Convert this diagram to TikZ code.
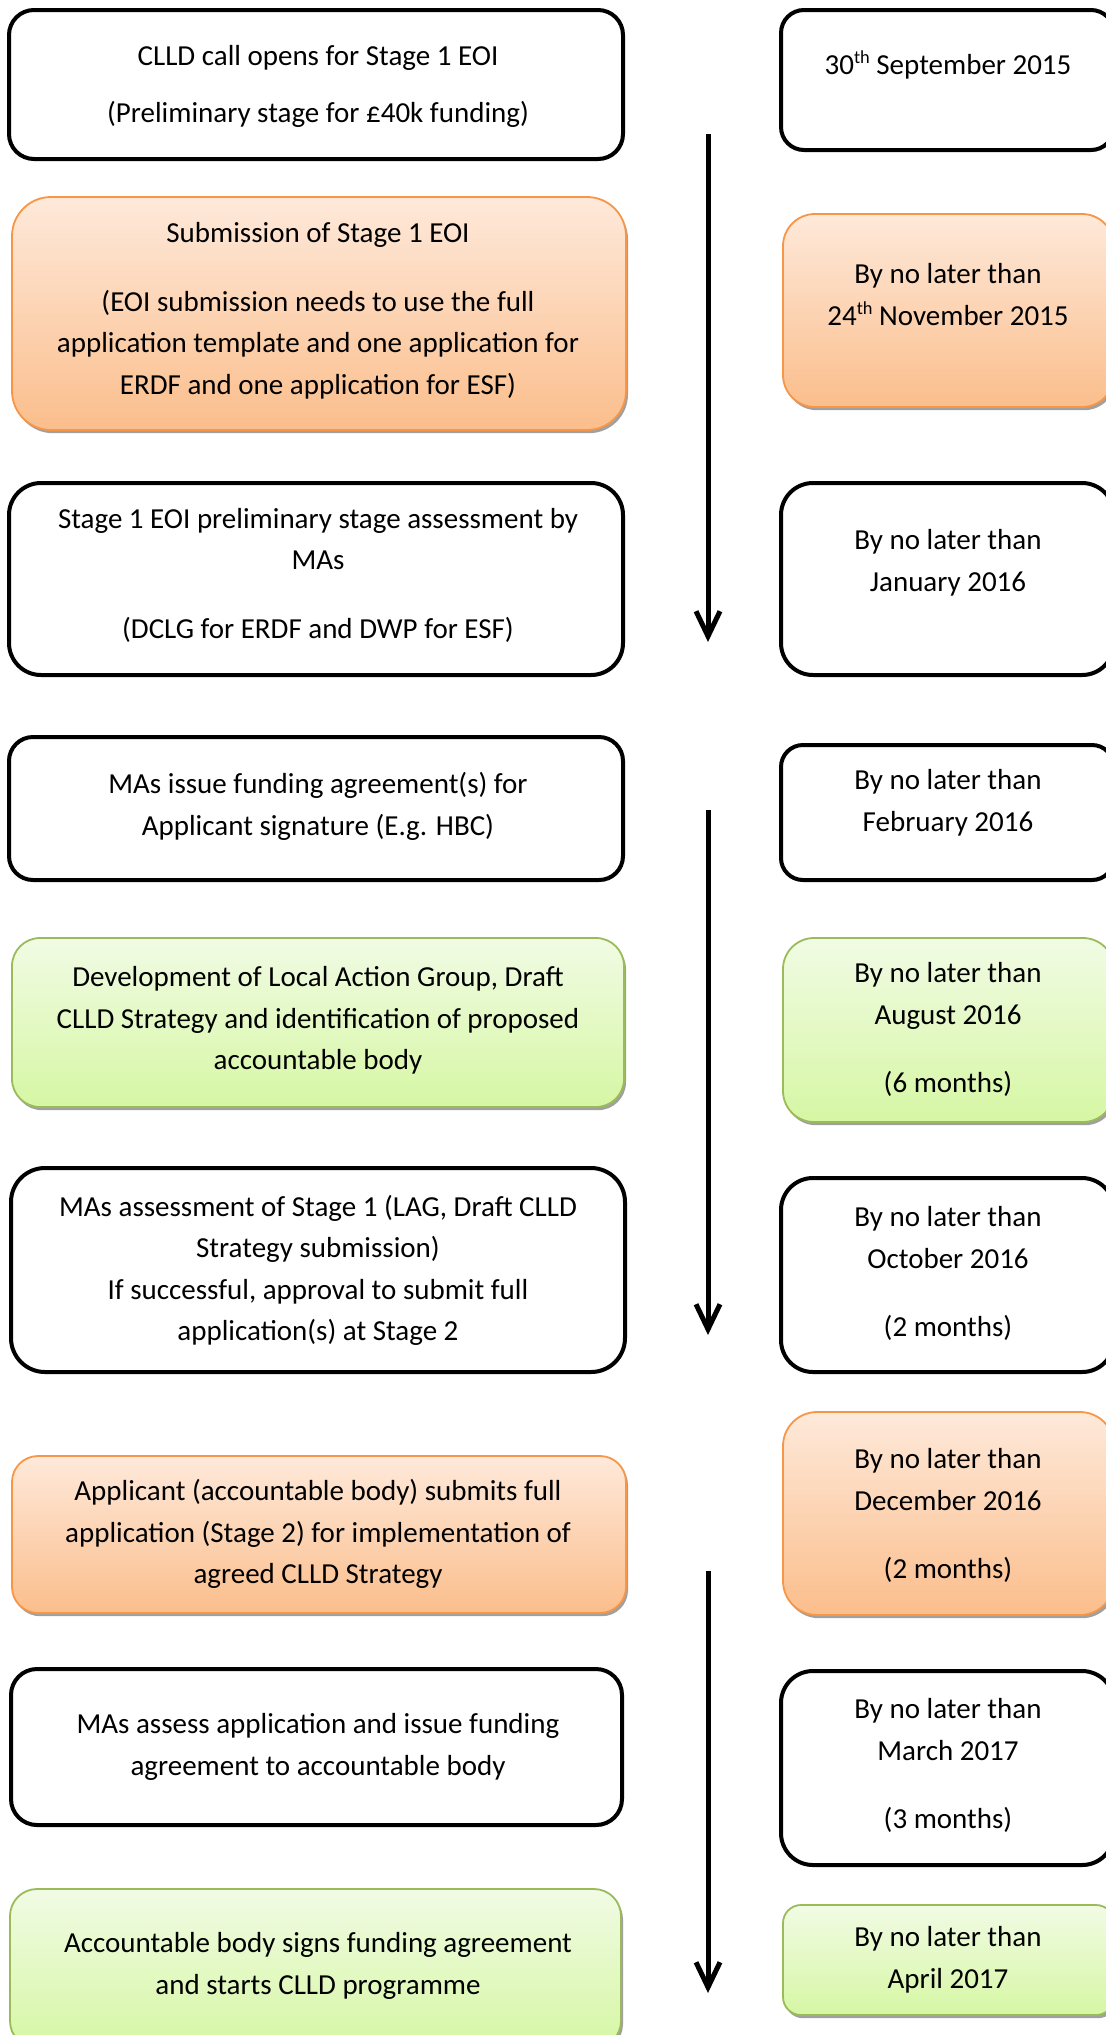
\documentclass[tikz,border=0pt]{standalone}
\usepackage{fontspec}
\setmainfont{Carlito}
\usetikzlibrary{arrows.meta,shadows}
\definecolor{orbd}{HTML}{F79646}
\definecolor{ortop}{HTML}{FEE9DA}
\definecolor{orbot}{HTML}{FBBE8C}
\definecolor{grbd}{HTML}{9BBB59}
\definecolor{grtop}{HTML}{F1FBE4}
\definecolor{grbot}{HTML}{D6F7A4}
\definecolor{shad}{HTML}{A0A0A0}
\tikzset{
  boxbase/.style={rectangle, inner sep=0pt, outer sep=0pt},
  blackbox/.style={boxbase, draw=black, line width=2pt, fill=white,
    drop shadow={shadow xshift=0.6pt, shadow yshift=-0.9pt, fill=shad, opacity=0.7}},
  orangebox/.style={boxbase, draw=orbd, line width=0.9pt, top color=ortop, bottom color=orbot,
    drop shadow={shadow xshift=1pt, shadow yshift=-1.6pt, fill=shad, opacity=1}},
  greenbox/.style={boxbase, draw=grbd, line width=0.9pt, top color=grtop, bottom color=grbot,
    drop shadow={shadow xshift=1pt, shadow yshift=-1.6pt, fill=shad, opacity=1}},
  txt/.style={align=center, inner sep=0pt, font=\fontsize{14.5}{20.75}\selectfont},
  flow/.style={line width=2.5pt, -{Straight Barb[length=12.5pt,width=12pt]}}
}
\newcommand\sups[1]{\raisebox{0.36em}{\fontsize{9.2}{10}\selectfont #1}}
\newcommand\mybox[7]{%
  \pgfmathsetmacro\bw{(#5-#3)*0.5}%
  \pgfmathsetmacro\bh{(#6-#4)*0.5}%
  \pgfmathsetmacro\br{#7*0.5}%
  \pgfmathsetmacro\bx{(#3+#5)/2}%
  \pgfmathsetmacro\by{(#4+#6)/2}%
  \node[#2, minimum width=\bw pt, minimum height=\bh pt, rounded corners=\br pt] (#1) at (\bx,\by) {};%
}
\begin{document}
\begin{tikzpicture}[x=0.5pt,y=-0.5pt]
\useasboundingbox (0,0) rectangle (1106,2035);
\fill[white] (0,0) rectangle (1106,2035);
\clip (0,0) rectangle (1106,2035);
% left column
\mybox{L1}{blackbox}{9}{10}{623}{159}{25}
\mybox{L2}{orangebox}{12}{197}{626}{430}{39}
\mybox{L3}{blackbox}{9}{483}{623}{675}{32}
\mybox{L4}{blackbox}{9}{737}{623}{880}{24}
\mybox{L5}{greenbox}{12}{938}{624}{1107}{28}
\mybox{L6}{blackbox}{11}{1168}{625}{1372}{34}
\mybox{L7}{orangebox}{12}{1456}{626}{1613}{26}
\mybox{L8}{blackbox}{11}{1669}{622}{1825}{26}
\mybox{L9}{greenbox}{10}{1889}{621}{2048}{27}
% right column
\mybox{R1}{blackbox}{781}{10}{1114}{150}{23}
\mybox{R2}{orangebox}{783}{214}{1114}{407}{32}
\mybox{R3}{blackbox}{781}{483}{1114}{675}{32}
\mybox{R4}{blackbox}{781}{745}{1114}{880}{22}
\mybox{R5}{greenbox}{783}{938}{1114}{1122}{31}
\mybox{R6}{blackbox}{781}{1178}{1114}{1372}{32}
\mybox{R7}{orangebox}{783}{1412}{1114}{1615}{34}
\mybox{R8}{blackbox}{781}{1671}{1114}{1865}{32}
\mybox{R9}{greenbox}{783}{1905}{1114}{2015}{18}
% left texts
\node[txt] (tL1) at (318,86) {\strut CLLD call opens for Stage 1 EOI\\[7.75pt](Preliminary stage for £40k funding)\strut};
\node[txt] (tL2) at (318,310) {\strut Submission of Stage 1 EOI\\[13.75pt](EOI submission needs to use the full\\application template and one application for\\ERDF and one application for ESF)\strut};
\node[txt] (tL3) at (318,575) {\strut Stage 1 EOI preliminary stage assessment by\\MAs\\[13.75pt](DCLG for ERDF and DWP for ESF)\strut};
\node[txt] (tL4) at (318,806) {\strut MAs issue funding agreement(s) for\\Applicant signature (E.g. HBC)\strut};
\node[txt] (tL5) at (318,1020) {\strut Development of Local Action Group, Draft\\CLLD Strategy and identification of proposed\\accountable body\strut};
\node[txt] (tL6) at (318,1270) {\strut MAs assessment of Stage 1 (LAG, Draft CLLD\\Strategy submission)\\If successful, approval to submit full\\application(s) at Stage 2\strut};
\node[txt] (tL7) at (318,1534) {\strut Applicant (accountable body) submits full\\application (Stage 2) for implementation of\\agreed CLLD Strategy\strut};
\node[txt] (tL8) at (318,1746) {\strut MAs assess application and issue funding\\agreement to accountable body\strut};
\node[txt] (tL9) at (318,1965) {\strut Accountable body signs funding agreement\\and starts CLLD programme\strut};
% right texts
\node[txt] (tR1) at (948,66) {\strut 30\sups{th} September 2015\strut};
\node[txt] (tR2) at (948,296) {\strut By no later than\\24\sups{th} November 2015\strut};
\node[txt] (tR3) at (948,562) {\strut By no later than\\January 2016\strut};
\node[txt] (tR4) at (948,802) {\strut By no later than\\February 2016\strut};
\node[txt] (tR5) at (948,1029) {\strut By no later than\\August 2016\\[13.25pt](6 months)\strut};
\node[txt] (tR6) at (948,1273) {\strut By no later than\\October 2016\\[13.25pt](2 months)\strut};
\node[txt] (tR7) at (948,1515) {\strut By no later than\\December 2016\\[13.25pt](2 months)\strut};
\node[txt] (tR8) at (948,1765) {\strut By no later than\\March 2017\\[13.25pt](3 months)\strut};
\node[txt] (tR9) at (948,1959) {\strut By no later than\\April 2017\strut};
% arrows
\coordinate (a1s) at (708,134);
\coordinate (a1e) at (708,642);
\coordinate (a2s) at (708,810);
\coordinate (a2e) at (708,1335);
\coordinate (a3s) at (708,1571);
\coordinate (a3e) at (708,1993);
\draw[flow] (a1s) -- (a1e);
\draw[flow] (a2s) -- (a2e);
\draw[flow] (a3s) -- (a3e);
\end{tikzpicture}
\end{document}
